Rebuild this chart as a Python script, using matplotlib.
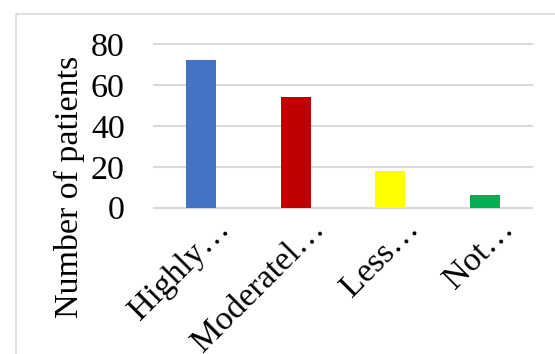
import matplotlib
matplotlib.use("Agg")
import matplotlib.pyplot as plt
import matplotlib.transforms as mtransforms
from matplotlib.patches import Rectangle

categories = ["Highly…", "Moderatel…", "Less…", "Not…"]
patients = [72, 54, 18, 6]
bar_colors = ["#4472C4", "#C00000", "#FFFF00", "#00B050"]
yticks = [0, 20, 40, 60, 80]

plt.rcParams["font.family"] = ["Liberation Serif", "DejaVu Serif"]
FS = 24.5

fig = plt.figure(figsize=(5.55, 3.54), dpi=100)
W, H = 555, 354

# light chart-area frame
fig.patches.append(Rectangle((16 / W, -0.1), 1.2, (H - 14) / H + 0.1,
                             transform=fig.transFigure, fill=False,
                             edgecolor="#d9d9d9", linewidth=1.2))

ax = fig.add_axes([154 / W, 1 - 207.7 / H, (532 - 154) / W, (207.7 - 44) / H])
x = range(len(categories))
ax.bar(x, patients, width=0.32, color=bar_colors, zorder=3)

ax.set_xlim(-0.5, len(categories) - 0.5)
ax.set_ylim(0, 80)
ax.set_yticks(yticks)
ax.yaxis.grid(True, color="#d9d9d9", linewidth=1.5, zorder=0)
for gl in ax.get_ygridlines():
    gl.set_clip_on(False)
for s in ax.spines.values():
    s.set_visible(False)

ax.tick_params(axis="y", length=0, pad=21, labelsize=FS)
ax.tick_params(axis="x", length=0, pad=0, labelsize=FS)
ax.set_xticks(list(x))
ax.set_xticklabels(categories, rotation=45, ha="right", va="baseline",
                   rotation_mode="anchor")
offset = mtransforms.ScaledTranslation(30 / 100, -22 / 100, fig.dpi_scale_trans)
for lbl in ax.get_xticklabels():
    lbl.set_transform(lbl.get_transform() + offset)

fig.text(69 / W, 1 - 187 / H, "Number of patients", fontsize=FS,
         rotation=90, ha="center", va="center")

fig.savefig("out.png", dpi=100)
